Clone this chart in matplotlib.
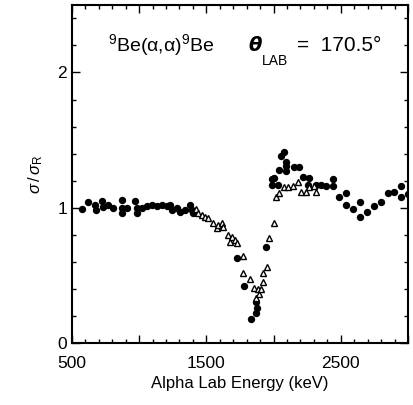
import matplotlib
matplotlib.use("Agg")
import matplotlib.pyplot as plt
from matplotlib.ticker import MultipleLocator, FuncFormatter

plt.rcParams['font.family'] = ['Liberation Sans', 'DejaVu Sans']
plt.rcParams['mathtext.fontset'] = 'custom'
plt.rcParams['mathtext.rm'] = 'Liberation Sans'
plt.rcParams['mathtext.it'] = 'Liberation Sans:italic'
plt.rcParams['mathtext.bf'] = 'Liberation Sans:bold'

# Filled circles: energy (keV), sigma/sigma_R
circ_E = [572, 621, 672, 679, 722, 731, 769, 806, 871, 871, 871, 908, 970, 983, 983,
          1020, 1057, 1095, 1132, 1169, 1207, 1231, 1244, 1281, 1306, 1343, 1381, 1396, 1403,
          1731, 1778, 1834, 1866, 1873, 1878, 1940, 1985, 1985,
          2000, 2030, 2037, 2052, 2075, 2090, 2090, 2090, 2149, 2187, 2216, 2254, 2261,
          2313, 2351, 2388, 2440, 2445,
          2485, 2537, 2537, 2590, 2642, 2642, 2694, 2746, 2799, 2851, 2896, 2948, 2948, 3000]
circ_R = [0.99, 1.04, 1.02, 0.985, 1.047, 1.007, 1.022, 1.0, 1.06, 1.0, 0.963, 1.0, 1.047, 1.0, 0.963,
          1.0, 1.01, 1.022, 1.01, 1.022, 1.01, 1.022, 0.985, 1.0, 0.97, 0.985, 1.02, 0.985, 0.963,
          0.63, 0.42, 0.18, 0.22, 0.30, 0.26, 0.71, 1.21, 1.17,
          1.22, 1.17, 1.28, 1.38, 1.41, 1.34, 1.31, 1.27, 1.30, 1.30, 1.23, 1.17, 1.22,
          1.17, 1.17, 1.16, 1.16, 1.21,
          1.08, 1.11, 1.02, 0.99, 1.04, 0.93, 0.97, 1.01, 1.04, 1.11, 1.12, 1.16, 1.08, 1.10]

# Open triangles
tri_E = [1420, 1440, 1470, 1493, 1515, 1552, 1582, 1590, 1619, 1627, 1664, 1679, 1694, 1716, 1731,
         1769, 1776, 1828, 1851, 1873, 1881, 1888, 1903, 1918, 1925, 1948, 1963, 2000,
         2015, 2037, 2075, 2104, 2142, 2179, 2201, 2239, 2261, 2299, 2313]
tri_R = [0.99, 0.963, 0.95, 0.93, 0.926, 0.89, 0.85, 0.874, 0.89, 0.86, 0.80, 0.75, 0.785, 0.76, 0.74,
         0.64, 0.52, 0.47, 0.41, 0.33, 0.40, 0.36, 0.40, 0.45, 0.52, 0.56, 0.78, 0.89,
         1.08, 1.11, 1.15, 1.15, 1.16, 1.19, 1.12, 1.12, 1.15, 1.16, 1.12]

fig = plt.figure(figsize=(4.13, 4.05), dpi=100)
ax = fig.add_axes([0.174, 0.153, 0.814, 0.835])

ax.plot(circ_E, circ_R, 'o', color='black', markersize=5.3, markeredgewidth=0)
ax.plot(tri_E, tri_R, '^', markerfacecolor='white', markeredgecolor='black',
        markersize=5.0, markeredgewidth=1.0)

ax.set_xlim(500, 3000)
ax.set_ylim(0, 2.5)
ax.xaxis.set_major_locator(MultipleLocator(500))
ax.xaxis.set_minor_locator(MultipleLocator(100))
ax.xaxis.set_major_formatter(FuncFormatter(lambda v, p: f"{int(v)}" if int(round(v)) % 1000 == 500 and v < 2900 else ""))
ax.yaxis.set_major_locator(MultipleLocator(1))
ax.yaxis.set_minor_locator(MultipleLocator(0.2))
ax.tick_params(which='both', direction='in', top=True, right=True, labelsize=12.5, width=1.0)
ax.tick_params(which='major', length=6)
ax.tick_params(which='minor', length=3)
ax.tick_params(axis='x', pad=9)
for s in ax.spines.values():
    s.set_linewidth(1.5)

ax.set_xlabel('Alpha Lab Energy (keV)', fontsize=12, labelpad=4)
ax.set_ylabel(r'$\sigma\,/\,\sigma_{\rm R}$', fontsize=12, labelpad=9)

ax.text(0.107, 0.88, r'$^{9}$Be(α,α)$^{9}$Be', transform=ax.transAxes,
        fontsize=14, ha='left', va='center')
ax.text(0.525, 0.88, r'$\boldsymbol{\theta}$', transform=ax.transAxes,
        fontsize=14, ha='left', va='center', fontstyle='italic', fontweight='bold')
ax.text(0.565, 0.835, 'LAB', transform=ax.transAxes, fontsize=10, ha='left', va='center')
ax.text(0.67, 0.88, '=  170.5°', transform=ax.transAxes, fontsize=15, ha='left', va='center')

fig.savefig('out.png', dpi=100)
